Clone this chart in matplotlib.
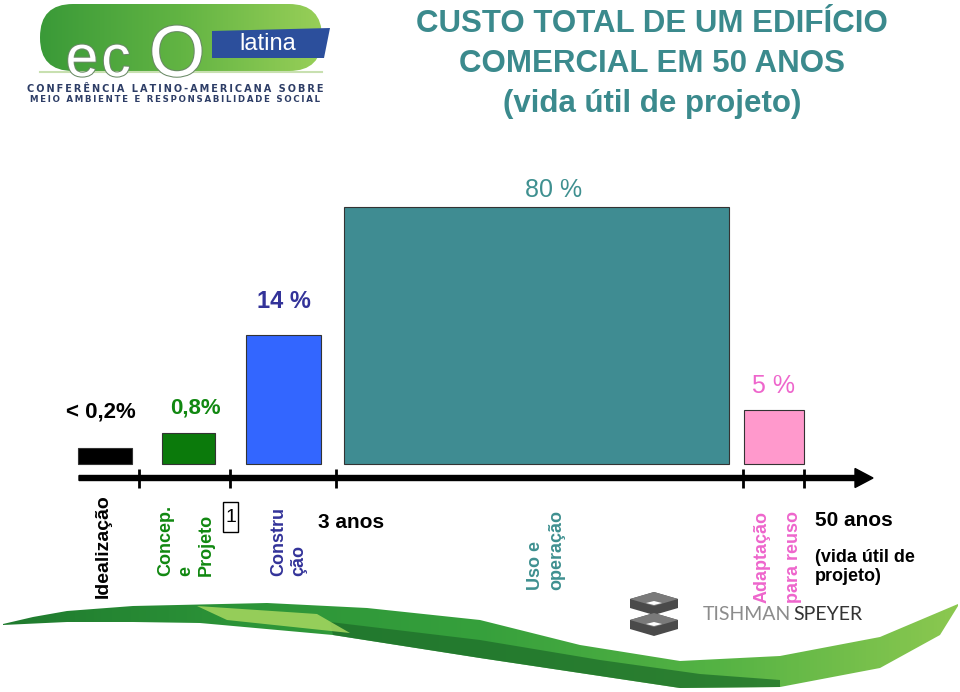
import numpy as np
import matplotlib

matplotlib.use("Agg")
import matplotlib.pyplot as plt
import matplotlib.patheffects as pe
from matplotlib.colors import LinearSegmentedColormap
from matplotlib.patches import FancyBboxPatch, Polygon, Rectangle

plt.rcParams["font.family"] = ["Liberation Sans", "DejaVu Sans"]

# ---- data -------------------------------------------------------------
phases = ["Idealização", "Concep.\ne\nProjeto", "Constru\nção",
          "Uso e\noperação", "Adaptação\npara reuso"]
cost_labels = ["< 0,2%", "0,8%", "14 %", "80 %", "5 %"]
# bar heights as drawn on the slide (schematic, not to scale)
bar_heights = [16, 31, 129, 257, 54]

# ---- layout / style -----------------------------------------------------
bar_left = [78, 162, 246, 344, 744]
bar_right = [132, 215, 321, 729, 804]
bar_colors = ["#000000", "#0b7a0b", "#3366ff", "#3f8c92", "#ff99cc"]
phase_edges = [139, 230, 336, 743, 804]

label_dx = [-4, 7, 0, 17, -1]
label_dy = [36, 25, 33, 17, 24]
label_colors = ["#000000", "#118811", "#333399", "#3f9090", "#ee66cc"]
label_sizes = [16, 16, 17, 18, 18]
label_weights = ["bold", "bold", "bold", "normal", "normal"]

phase_x = [103, 186, 289, 546, 778]
phase_bottom = [598, 576, 576, 590, 603]
phase_spacing = [1.2, 1.25, 1.25, 1.3, 2.15]
phase_sizes = [14, 13, 13, 13, 13]
phase_colors = ["#000000", "#118811", "#333399", "#3f9090", "#ee66cc"]

BASE = 464  # image row of the bar baseline

fig = plt.figure(figsize=(9.6, 6.92), dpi=100)

# background axes in image pixel coordinates (y down)
bg = fig.add_axes([0, 0, 1, 1])
bg.set_xlim(0, 960)
bg.set_ylim(692, 0)
bg.axis("off")

# chart axes: baseline of the bars at y = 0
ax = fig.add_axes([0, 0, 1, 1], zorder=2)
ax.set_xlim(0, 960)
ax.set_ylim(BASE - 692, BASE)
ax.axis("off")
ax.patch.set_alpha(0)

# ---- bars ---------------------------------------------------------------
centers = [(l + r) / 2 for l, r in zip(bar_left, bar_right)]
widths = [r - l for l, r in zip(bar_left, bar_right)]
ax.bar(centers, bar_heights, widths, color=bar_colors, edgecolor="#333333", lw=0.8)

for i, lab in enumerate(cost_labels):
    ax.text(centers[i] + label_dx[i], bar_heights[i] + label_dy[i], lab,
            ha="center", va="center", fontsize=label_sizes[i],
            fontweight=label_weights[i], color=label_colors[i])

# time axis with arrow and phase ticks
ax.arrow(79, -14, 873 - 79, 0, width=5, head_width=19, head_length=18,
         length_includes_head=True, fc="black", ec="black")
ax.vlines(phase_edges, -24, -5, color="black", lw=2)

# ---- phase labels (rotated) ---------------------------------------------
for i, ph in enumerate(phases):
    bg.text(phase_x[i], phase_bottom[i], ph, rotation=90, ha="center", va="bottom",
            multialignment="left", linespacing=phase_spacing[i],
            fontsize=phase_sizes[i], fontweight="bold", color=phase_colors[i])

bg.add_patch(Rectangle((223, 502), 15, 30, fc="white", ec="black", lw=1))
bg.text(230.5, 518, "1", ha="center", va="center", fontsize=14)
bg.text(318, 522, "3 anos", ha="left", va="center", fontsize=15, fontweight="bold")
bg.text(815, 521, "50 anos", ha="left", va="center", fontsize=15, fontweight="bold")
bg.text(815, 567, "(vida útil de\nprojeto)", ha="left", va="center", fontsize=13,
        fontweight="bold", linespacing=1.1)

# ---- title --------------------------------------------------------------
for y, line in zip([24, 64, 104], ["CUSTO TOTAL DE UM EDIFÍCIO",
                                   "COMERCIAL EM 50 ANOS",
                                   "(vida útil de projeto)"]):
    bg.text(652, y, line, ha="center", va="center", fontsize=22.5,
            fontweight="bold", color="#3b8a8d")

# ---- ecO latina logo ----------------------------------------------------
pill = FancyBboxPatch((40, 4), 282, 67, boxstyle="round,pad=0,rounding_size=33",
                      fc="none", ec="none")
bg.add_patch(pill)
gcmap = LinearSegmentedColormap.from_list("g", ["#3a9a38", "#62b443", "#98cf58"])
im = bg.imshow(np.linspace(0, 1, 256).reshape(1, -1), extent=(40, 322, 71, 4),
               cmap=gcmap, aspect="auto", zorder=1)
im.set_clip_path(pill)
bg.plot([40, 322], [72, 72], color="#c8e0b0", lw=1.5, zorder=2)
bg.add_patch(Polygon([(212, 31), (330, 28), (324, 58), (212, 58)],
                     fc="#2c4f9c", ec="none", zorder=2))
bg.text(268, 44, "latina", ha="center", va="center", fontsize=17, color="white",
        zorder=3)
stroke = [pe.withStroke(linewidth=1.5, foreground="#6a8a66")]
for ch, x, fs in [("e", 82, 42), ("c", 116, 42), ("O", 177, 52)]:
    bg.text(x, 76, ch, ha="center", va="baseline", fontsize=fs, color="white",
            path_effects=stroke, zorder=3)
thin = "\u2009"
bg.text(175, 89, thin.join("CONFERÊNCIA LATINO-AMERICANA SOBRE"), ha="center",
        va="center", fontsize=7, fontweight="bold", color="#2d3d66", family="DejaVu Sans")
bg.text(175, 100, thin.join("MEIO AMBIENTE E RESPONSABILIDADE SOCIAL"), ha="center",
        va="center", fontsize=6.2, fontweight="bold", color="#2d3d66", family="DejaVu Sans")

# ---- leaf swoosh --------------------------------------------------------
top = [(3, 624), (33, 617), (67, 611), (133, 606), (267, 603), (367, 608),
       (480, 620), (580, 645), (680, 661), (780, 656), (880, 637), (958, 604)]
bottom = [(958, 606), (940, 635), (880, 668), (780, 687), (680, 688), (580, 673),
          (480, 658), (333, 635), (200, 623), (133, 622), (67, 622), (3, 625)]
leaf = Polygon(top + bottom, closed=True, fc="none", ec="none")
bg.add_patch(leaf)
lcmap = LinearSegmentedColormap.from_list(
    "leaf", ["#1f7a2e", "#2c9438", "#36a03c", "#55b344", "#8cc850"])
im2 = bg.imshow(np.linspace(0, 1, 256).reshape(1, -1), extent=(0, 960, 692, 595),
                cmap=lcmap, aspect="auto", zorder=1)
im2.set_clip_path(leaf)
bg.add_patch(Polygon([(330, 622), (480, 640), (600, 660), (700, 674), (780, 680),
                      (780, 687), (680, 688), (580, 673), (480, 658), (333, 635)],
                     fc="#1e6e2a", ec="none", alpha=0.75, zorder=2))
bg.add_patch(Polygon([(197, 606), (317, 614), (350, 633), (227, 620)],
                     fc="#a8d860", ec="none", alpha=0.85, zorder=2))

# ---- Tishman Speyer logo ------------------------------------------------
for dy in (0, 21):
    bg.add_patch(Polygon([(630, 599 + dy), (654, 592 + dy), (678, 599 + dy),
                          (678, 608 + dy), (654, 615 + dy), (630, 608 + dy)],
                         fc="#4a4a4a", ec="none", zorder=2))
    bg.add_patch(Polygon([(630, 599 + dy), (654, 592 + dy), (678, 599 + dy),
                          (654, 606 + dy)], fc="#7a7a7a", ec="none", zorder=2))
    bg.add_patch(Polygon([(646, 603 + dy), (654, 601 + dy), (662, 603 + dy),
                          (654, 605 + dy)], fc="white", ec="none", zorder=2))
bg.text(703, 615, "TISHMAN", ha="left", va="center", fontsize=14,
        color="#8c8c8c", family="Lato")
bg.text(793, 615, "SPEYER", ha="left", va="center", fontsize=14,
        color="#333333", family="Lato")

bg.set_xlim(0, 960)
bg.set_ylim(692, 0)

fig.savefig("out.png", dpi=100)
plt.close(fig)
